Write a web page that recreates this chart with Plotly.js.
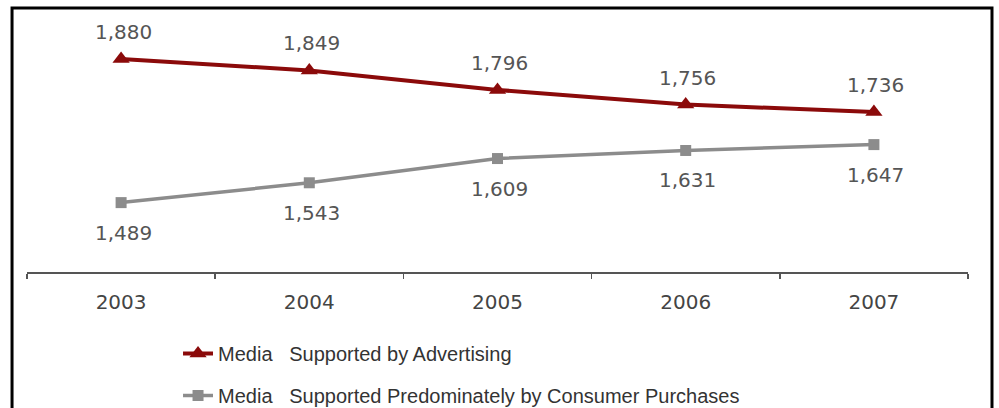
<!DOCTYPE html>
<html>
<head>
<meta charset="utf-8">
<script src="https://cdn.plot.ly/plotly-3.0.1.min.js"></script>
<style>html,body{margin:0;padding:0;background:#fff;overflow:hidden;}#chart{width:999px;height:415px;}</style>
</head>
<body>
<div id="chart"></div>
<script>
const years = ["2003", "2004", "2005", "2006", "2007"];
const advertising = [1880, 1849, 1796, 1756, 1736];
const consumer = [1489, 1543, 1609, 1631, 1647];
const seriesNames = ["Media   Supported by Advertising", "Media   Supported Predominately by Consumer Purchases"];

const fmt = v => v.toLocaleString('en-US');

const traces = [
  {
    x: years, y: advertising, name: seriesNames[0], type: 'scatter', mode: 'lines+markers',
    line: {color: '#8b0a0a', width: 4},
    marker: {symbol: 'triangle-up', size: 15, color: '#8b0a0a'},
    legendgroup: 'a', hoverinfo: 'skip'
  },
  {
    x: years, y: consumer, name: seriesNames[1], type: 'scatter', mode: 'lines+markers',
    line: {color: '#8c8c8c', width: 3.5},
    marker: {symbol: 'square', size: 11, color: '#8c8c8c'},
    legendgroup: 'b', hoverinfo: 'skip'
  }
];

const annotations = [];
years.forEach((yr, i) => {
  annotations.push({x: i, y: advertising[i], xref: 'x', yref: 'y', text: fmt(advertising[i]),
    showarrow: false, yshift: 27, xshift: 2, font: {family: 'DejaVu Sans', size: 20, color: '#555'}});
  annotations.push({x: i, y: consumer[i], xref: 'x', yref: 'y', text: fmt(consumer[i]),
    showarrow: false, yshift: -30, xshift: 2, font: {family: 'DejaVu Sans', size: 20, color: '#555'}});
});

// Figure is 415px tall (bottom 7px fall outside the 408px window, like the cropped reference).
// Plot area: top 15px, bottom 415px (400px tall); data scale 700 units per 257px.
const layout = {
  width: 999, height: 415,
  margin: {l: 27, r: 31, t: 15, b: 0},
  paper_bgcolor: '#fff', plot_bgcolor: 'rgba(0,0,0,0)',
  showlegend: true,
  legend: {x: 0.1605, xanchor: 'left', y: 0, yanchor: 'bottom',
    orientation: 'v', traceorder: 'grouped', tracegroupgap: 13,
    font: {family: 'Liberation Sans', size: 20, color: '#333'}, bgcolor: 'rgba(0,0,0,0)'},
  xaxis: {type: 'category', range: [-0.5, 4.5], showgrid: false, zeroline: false,
    anchor: 'free', position: 0.3575,
    showline: true, linecolor: '#555', linewidth: 1.5, automargin: false,
    ticks: 'outside', tickson: 'boundaries', ticklen: 5, tickcolor: '#555', tickwidth: 1.5,
    ticklabelstandoff: 11,
    tickfont: {family: 'DejaVu Sans', size: 20, color: '#444'}, fixedrange: true},
  yaxis: {range: [910.5, 2000], visible: false, showgrid: false, zeroline: false, fixedrange: true, automargin: false},
  annotations: annotations,
  shapes: [{type: 'rect', xref: 'paper', yref: 'paper', x0: -0.0159, x1: 1.0255, y0: -0.05, y1: 1.0175,
    line: {color: '#000', width: 3}, fillcolor: 'rgba(0,0,0,0)', layer: 'below'}]
};

Plotly.newPlot('chart', traces, layout, {displayModeBar: false, staticPlot: true});
</script>
</body>
</html>
